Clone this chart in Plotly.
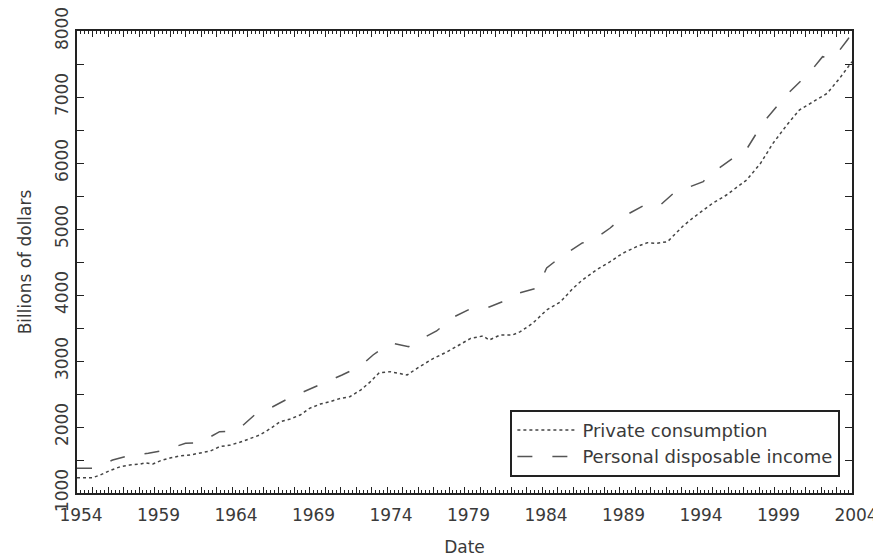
import plotly.graph_objects as go

# Private consumption (billions of dollars)
years_cons = [1954.0, 1955.0, 1955.5, 1956.1, 1956.8, 1957.4, 1958.1, 1958.4, 1958.9, 1959.4,
              1960.0, 1960.6, 1961.3, 1961.9, 1962.6, 1963.2, 1963.9, 1964.5, 1965.2, 1965.8,
              1966.5, 1967.1, 1967.7, 1968.4, 1969.0, 1969.7, 1970.3, 1971.0, 1971.6, 1972.3,
              1972.9, 1973.5, 1974.2, 1974.8, 1975.3, 1976.1, 1977.0, 1977.9, 1978.7, 1979.4,
              1980.2, 1980.6, 1981.3, 1982.1, 1982.6, 1983.4, 1984.3, 1985.2, 1986.0, 1986.6,
              1987.5, 1988.4, 1989.2, 1990.1, 1990.8, 1991.4, 1992.1, 1992.5, 1993.1, 1993.7,
              1994.4, 1995.0, 1995.9, 1996.8, 1997.2, 1998.1, 1998.9, 1999.8, 2000.6, 2001.5,
              2002.4, 2003.2, 2004.0]
consumption = [1232, 1232, 1273, 1338, 1399, 1424, 1439, 1459, 1439, 1490,
               1530, 1560, 1576, 1601, 1636, 1702, 1727, 1768, 1828, 1879,
               1980, 2080, 2116, 2182, 2283, 2348, 2383, 2434, 2459, 2560,
               2680, 2823, 2838, 2813, 2788, 2914, 3040, 3141, 3242, 3343,
               3379, 3318, 3394, 3394, 3444, 3571, 3773, 3898, 4101, 4227,
               4379, 4505, 4631, 4732, 4793, 4783, 4808, 4909, 5045, 5161,
               5288, 5389, 5515, 5667, 5742, 5995, 6298, 6576, 6803, 6929,
               7056, 7283, 7535]

# Personal disposable income (billions of dollars)
years_inc = [1954.0, 1955.1, 1956.3, 1957.5, 1958.6, 1959.7, 1961.0, 1961.9, 1963.2, 1964.3,
             1965.6, 1966.6, 1967.7, 1968.9, 1970.1, 1971.1, 1972.3, 1973.1, 1974.2, 1975.4,
             1976.1, 1977.2, 1978.3, 1979.5, 1980.6, 1981.4, 1982.5, 1983.7, 1984.3, 1985.2,
             1986.6, 1987.3, 1988.4, 1989.2, 1990.5, 1991.5, 1992.6, 1993.0, 1994.4, 1994.8,
             1996.6, 1997.1, 1997.9, 1998.5, 1999.5, 1999.9, 2001.1, 2001.4, 2002.1, 2002.8,
             2003.7, 2004.0]
income = [1374, 1374, 1500, 1576, 1601, 1652, 1753, 1760, 1929, 1940,
          2212, 2303, 2440, 2560, 2686, 2788, 2924, 3091, 3277, 3217,
          3318, 3455, 3667, 3803, 3818, 3894, 4030, 4106, 4409, 4576,
          4788, 4833, 5015, 5182, 5348, 5335, 5565, 5591, 5717, 5818,
          6121, 6171, 6474, 6677, 6955, 7061, 7333, 7409, 7611, 7586,
          7863, 7970]

x_tick_years = list(range(1954, 2005))
x_tick_text = [str(y) if (y - 1954) % 5 == 0 else "" for y in x_tick_years]
y_tick_vals = [1000, 2000, 3000, 4000, 5000, 6000, 7000, 8000]
y_tick_text = [str(v) for v in y_tick_vals]

FONT = "DejaVu Sans"
TXT = "#3a3a3a"
AX = "#222222"

fig = go.Figure()
fig.add_trace(go.Scatter(
    x=years_cons, y=consumption, mode="lines", name="Private consumption",
    line=dict(color="#444444", width=1.5, dash="dot"),
))
fig.add_trace(go.Scatter(
    x=years_inc, y=income, mode="lines", name="Personal disposable income",
    line=dict(color="#555555", width=1.5, dash="15px,20px"),
))

# page body adds an 8px offset, so the figure is sized 873x549
fig.update_layout(
    width=873, height=549,
    margin=dict(l=69, r=29, t=23, b=64, autoexpand=False),
    paper_bgcolor="white", plot_bgcolor="white",
    font=dict(family=FONT, size=17, color=TXT),
    showlegend=True,
    legend=dict(
        x=0.985, y=0.035, xanchor="right", yanchor="bottom",
        bordercolor=AX, borderwidth=2, bgcolor="white",
        font=dict(family=FONT, size=18, color=TXT),
        itemwidth=60,
    ),
    xaxis=dict(
        range=[1954, 2004], tickvals=x_tick_years, ticktext=x_tick_text,
        ticks="inside", ticklen=6, tickwidth=1, tickcolor=AX,
        minor=dict(dtick=0.25, ticks="inside", ticklen=3, tickcolor=AX, showgrid=False),
        showline=True, linewidth=2, linecolor=AX, mirror="ticks",
        showgrid=False, zeroline=False, ticklabelshift=4, ticklabelstandoff=6,
        ticklabeloverflow="allow", automargin=False,
        title=dict(text="Date", font=dict(family=FONT, size=17, color=TXT), standoff=22),
    ),
    yaxis=dict(
        range=[1000, 8000], tickvals=y_tick_vals, ticktext=y_tick_text,
        ticks="inside", ticklen=7, tickwidth=1, tickcolor=AX, tickangle=-90,
        minor=dict(dtick=500, ticks="inside", ticklen=7, tickcolor=AX, showgrid=False),
        showline=True, linewidth=2, linecolor=AX, mirror="ticks",
        showgrid=False, zeroline=False, automargin=False, ticklabeloverflow="allow",
        title=dict(text="Billions of dollars", font=dict(family=FONT, size=17, color=TXT), standoff=16),
    ),
)

fig.write_html("out.html")
